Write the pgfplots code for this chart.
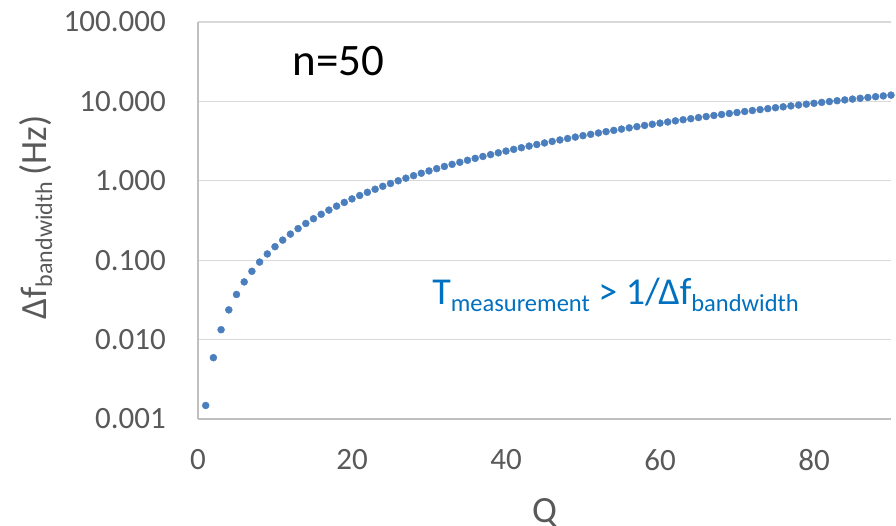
\documentclass[border=0pt]{standalone}
\usepackage{fontspec}
\setmainfont{Carlito}
\usepackage{pgfplots}
\pgfplotsset{compat=1.18}
\usepackage{pgfplotstable}

\definecolor{dotblue}{RGB}{74,126,189}
\definecolor{notblue}{RGB}{0,112,192}
\definecolor{labgray}{RGB}{89,89,89}
\definecolor{gridgray}{RGB}{217,217,217}
\definecolor{axgray}{RGB}{191,191,191}

% bandwidth versus Q, n = 50
\pgfplotstableread{
Q df
1 0.00148
2 0.00592
3 0.01332
4 0.02368
5 0.03700
6 0.05328
7 0.07252
8 0.09472
9 0.11988
10 0.1480
11 0.1791
12 0.2131
13 0.2501
14 0.2901
15 0.3330
16 0.3789
17 0.4277
18 0.4795
19 0.5343
20 0.5920
21 0.6527
22 0.7163
23 0.7829
24 0.8525
25 0.9250
26 1.0005
27 1.0789
28 1.1603
29 1.2447
30 1.3320
31 1.4223
32 1.5155
33 1.6117
34 1.7109
35 1.8130
36 1.9181
37 2.0261
38 2.1371
39 2.2511
40 2.3680
41 2.4879
42 2.6107
43 2.7365
44 2.8653
45 2.9970
46 3.1317
47 3.2693
48 3.4099
49 3.5535
50 3.7000
51 3.8495
52 4.0019
53 4.1573
54 4.3157
55 4.4770
56 4.6413
57 4.8085
58 4.9787
59 5.1519
60 5.3280
61 5.5071
62 5.6891
63 5.8741
64 6.0621
65 6.2530
66 6.4469
67 6.6437
68 6.8435
69 7.0463
70 7.2520
71 7.4607
72 7.6723
73 7.8869
74 8.1045
75 8.3250
76 8.5485
77 8.7749
78 9.0043
79 9.2367
80 9.4720
81 9.7103
82 9.9515
83 10.196
84 10.443
85 10.693
86 10.946
87 11.202
88 11.461
89 11.723
90 11.988
}\bwdata

\begin{document}
\begin{tikzpicture}
\path[use as bounding box] (-198pt,-107pt) rectangle (698pt,419pt);
\begin{axis}[
  at={(0,0)}, anchor=south west,
  width=693pt, height=397pt, scale only axis,
  xmin=0, xmax=90,
  ymode=log, ymin=0.001, ymax=100,
  xtick={0,20,40,60,80},
  ytick={0.001,0.01,0.1,1,10,100},
  yticklabels={0.001,0.010,0.100,1.000,10.000,100.000},
  /pgf/number format/assume math mode=true,
  major tick length=0pt, minor tick num=0,
  log basis y=10,
  axis x line*=bottom, axis y line*=left,
  axis line style={-, draw=axgray, line width=1.3pt},
  ymajorgrids, major grid style={draw=gridgray, line width=1.3pt},
  tick label style={font=\fontsize{31}{37}\selectfont, text=labgray, inner sep=0pt},
  yticklabel style={anchor=east, xshift=-32pt},
  xticklabel style={anchor=north, yshift=-30pt},
  every axis x label/.style={at={(axis description cs:0.5,-0.199)}, anchor=north, inner sep=0pt},
  every axis y label/.style={at={(axis description cs:-0.2193,0.5076)}, rotate=90, anchor=base, inner sep=0pt},
  xlabel={\fontsize{37}{44}\selectfont\color{labgray}Q},
  ylabel={\fontsize{37}{44}\selectfont\color{labgray}Δf\raisebox{-6pt}{\fontsize{24}{28}\selectfont bandwidth}\,(Hz)},
  clip=false,
]
\addplot[only marks, mark=*, mark size=3.5pt, draw=dotblue, fill=dotblue] table[x=Q, y=df] {\bwdata};
\node[anchor=base west, inner sep=0pt, font=\fontsize{45}{52}\selectfont] at (axis cs:12.3,21.5) {n=50};
\node[anchor=base west, inner sep=0pt, text=notblue, font=\fontsize{38}{45}\selectfont] at (axis cs:30.4,0.0273)
  {T\raisebox{-6.5pt}{\fontsize{24.5}{29}\selectfont measurement} > 1/Δf\raisebox{-6.5pt}{\fontsize{24.5}{29}\selectfont bandwidth}};
\end{axis}
\end{tikzpicture}
\end{document}
